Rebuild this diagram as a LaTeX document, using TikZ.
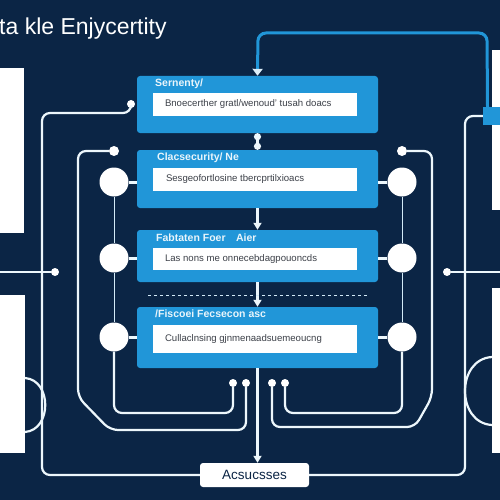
\documentclass[tikz,border=0pt]{standalone}
\usepackage{fontspec}
\setmainfont{Liberation Sans}
\usetikzlibrary{positioning,arrows.meta}
\definecolor{navy}{RGB}{11,37,69}
\definecolor{skyb}{RGB}{33,150,216}
\definecolor{ink}{RGB}{60,64,72}
\begin{document}
\begin{tikzpicture}[x=1pt,y=-1pt,
      blu/.style={fill=skyb,rounded corners=3pt,inner sep=0pt,minimum width=241pt},
      bar/.style={fill=white,inner sep=0pt,minimum width=204pt},
      hd/.style={text=white!90!skyb,font=\bfseries\fontsize{10.5}{12}\selectfont,inner sep=0pt,anchor=west},
      tx/.style={text=ink,font=\fontsize{9.6}{11}\selectfont,inner sep=0pt},
      ring/.style={circle,fill=white,minimum size=29pt,inner sep=0pt},
      dot/.style={circle,fill=white,minimum size=8pt,inner sep=0pt},
      wire/.style={draw=white!92!skyb,line width=2.2pt,rounded corners=8pt},
      thinw/.style={draw=white!80!skyb,line width=1pt},
      pane/.style={fill=white}]
      \fill[navy] (0,0) rectangle (500,500);
      \useasboundingbox (0,0) rectangle (500,500);
      \node[anchor=base west,inner sep=0pt,text=white,font=\fontsize{23}{26}\selectfont] (title) at (-1,35) {ta kle Enjycertity};
      \fill[pane] (0,68) rectangle (24,233);
      \fill[pane] (0,295) rectangle (25,453);
      \fill[pane] (492,50) rectangle (500,210);
      \fill[pane] (492,288) rectangle (500,453);
      \node[blu,minimum height=57pt] (b1) at (257.5,104.5) {};
      \node[blu,minimum height=58pt] (b2) at (257.5,179) {};
      \node[blu,minimum height=52pt] (b3) at (257.5,256) {};
      \node[blu,minimum height=61pt] (b4) at (257.5,337.5) {};
      \node[bar,minimum height=23pt] (i1) at (255,104.5) {};
      \node[bar,minimum height=23pt] (i2) at (255,179.5) {};
      \node[bar,minimum height=22pt] (i3) at (255,259) {};
      \node[bar,minimum height=28pt] (i4) at (255,339) {};
      \node[tx,right=12pt of i1.west] (t1) {Bnoecerther gratl/wenoud' tusah doacs};
      \node[tx,right=13pt of i2.west] (t2) {Sesgeofortlosine tbercprtilxioacs};
      \node[tx,right=12pt of i3.west] (t3) {Las nons me onnecebdagpouoncds};
      \node[tx,right=12pt of i4.west] (t4) {Cullaclnsing gjnmenaadsuemeoucng};
      \node[hd] (h1) at (155,84) {Sernenty/};
      \node[hd] (h2) at (157,158) {Clacsecurity/ Ne};
      \node[hd] (h3) at (156,238) {Fabtaten Foer\quad Aier};
      \node[hd] (h4) at (155,314) {/Fiscoei Fecsecon asc};
      \node[ring] (l2) at (114,182) {};
      \node[ring] (l3) at (114,258) {};
      \node[ring] (l4) at (114,337) {};
      \node[ring] (r2) at (402,182) {};
      \node[ring] (r3) at (402,258) {};
      \node[ring] (r4) at (402,337) {};
      \node[fill=white,rounded corners=3pt,minimum width=109pt,minimum height=24pt,inner sep=0pt,text=navy,font=\fontsize{13.5}{15}\selectfont] (acc) at (254.5,475) {Acsucsses};
      \node[fill=skyb,minimum width=17pt,minimum height=18pt,inner sep=0pt] (tab) at (491.5,116) {};
      \node[dot] (p1) at (131,104) {};
      \node[dot,minimum size=10pt] (tl) at (114,151) {};
      \node[dot,minimum size=10pt] (tr) at (402,151) {};
      \node[dot] (dl) at (55,272) {};
      \node[dot] (dr) at (447,272) {};
      \node[dot] (qa) at (246,383) {};
      \node[dot] (qb) at (233,383) {};
      \node[dot] (qc) at (285,383) {};
      \node[dot] (qd) at (272,383) {};
      \draw[draw=skyb,line width=3pt,rounded corners=8pt,-{Triangle[color=white!85!skyb,length=7pt,width=10pt]}] ([xshift=-4pt]tab.north) -- (487,33) -- (258,33) -- (b1.north);
      \draw[wire] (tab.west) -- (465,116) -- (465,475) -- (acc.east);
      \draw[wire] (p1) |- (42,113) -- (42,475) -- (acc.west);
      \draw[wire] (25,378) .. controls (52,380) and (52,430) .. (25,432);
      \draw[wire] (492,357) .. controls (456,359) and (456,423) .. (492,425);
      \draw[wire] (0,272) -- (dl);
      \draw[wire] (dr) -- (500,272);
      \draw[wire] (tl) -- (78,151) -- (78,397) -- (110,430) -- (246,430) -- (qa);
      \draw[wire] (l4.south) -- (114,413) -- (233,413) -- (qb);
      \draw[wire] (tr) -- (432,151) -- (432,397) -- (415,427) -- (272,427) -- (qd);
      \draw[wire] (r4.south) -- (402,413) -- (285,413) -- (qc);
      \draw[thinw] (l2.south) -- (l3.north) (l3.south) -- (l4.north);
      \draw[thinw] (r2.south) -- (r3.north) (r3.south) -- (r4.north);
      \draw[wire,line width=3pt] (l2.east) -- (b2.west |- l2);
      \draw[wire,line width=3pt] (l3.east) -- (b3.west |- l3);
      \draw[wire,line width=3pt] (l4.east) -- (b4.west |- l4);
      \draw[wire,line width=3pt] (r2.west) -- (b2.east |- r2);
      \draw[wire,line width=3pt] (r3.west) -- (b3.east |- r3);
      \draw[wire,line width=3pt] (r4.west) -- (b4.east |- r4);
      \draw[wire,{Circle[length=7pt]}-{Circle[length=7pt]}] (b1.south) -- (b2.north);
      \draw[wire,-{Triangle[length=7pt,width=8pt]}] (b2.south) -- (b3.north);
      \draw[wire,-{Triangle[length=7pt,width=8pt]}] (b3.south) -- (b4.north);
      \draw[wire,-{Triangle[length=7pt,width=8pt]}] (b4.south) -- (b4.south |- acc.north);
      \draw[thinw,dashed] (148,295) -- (367,295);
\end{tikzpicture}
\end{document}
